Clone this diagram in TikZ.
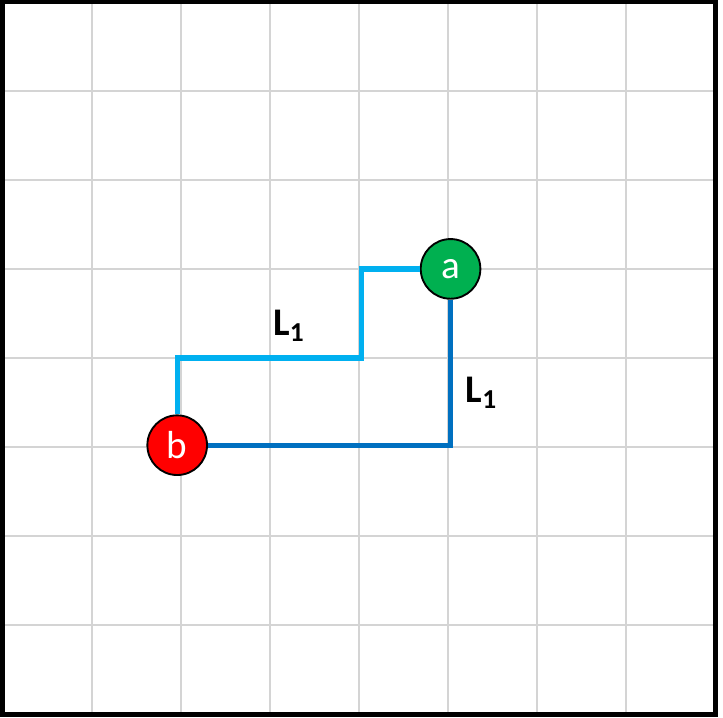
\documentclass[tikz,border=0pt]{standalone}
\usepackage{fontspec}
\setmainfont{Carlito}
\usetikzlibrary{positioning}

\definecolor{gridgray}{HTML}{D4D4D4}
\definecolor{lightpath}{HTML}{00B0F0}
\definecolor{darkpath}{HTML}{0070C0}
\definecolor{ptgreen}{HTML}{00B050}
\definecolor{ptred}{HTML}{FF0000}

\tikzset{
  point/.style={circle, draw=black, line width=0.6pt, minimum size=0.67cm,
    inner sep=0pt, text=white, font=\fontsize{12.5}{14}\selectfont},
  route/.style={line width=1.7pt},
  lbl/.style={font=\bfseries\fontsize{12.5}{14}\selectfont}
}

\begin{document}
\begin{tikzpicture}
  \useasboundingbox (-0.03,-0.04) rectangle (8.09,8.02);
  % Grid
  \draw[gridgray, line width=0.7pt] (0,0) grid (8,8);
  % Frame
  \draw[line width=1.6pt] (0,0) rectangle (8,8);
  % Points
  \node[point, fill=ptgreen] (a) at (5.03,5) {a};
  \node[point, fill=ptred] (b) at (1.96,3.02) {b};
  % Routes
  \draw[route, lightpath] (b.north) |- (4.03,4) |- (a.west);
  \draw[route, darkpath] (a.south) |- (b.east);
  % Lengths
  \node[lbl] (l1top) at (3.22,4.36) {L\textsubscript{1}};
  \node[lbl] (l1side) at (5.38,3.61) {L\textsubscript{1}};
\end{tikzpicture}
\end{document}
